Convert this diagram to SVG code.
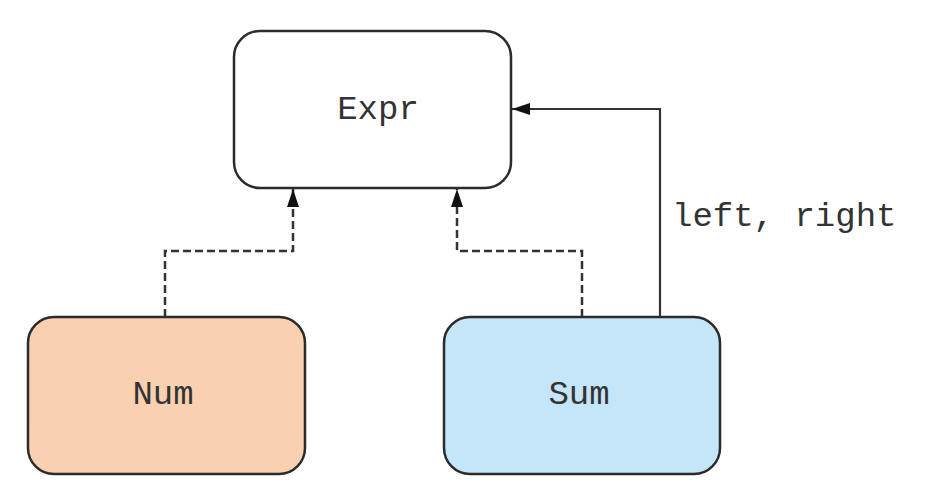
<svg xmlns="http://www.w3.org/2000/svg" width="943" height="487" viewBox="0 0 943 487">
<style>
.box{stroke:#2b2b2b;stroke-width:2.5}
.lbl{font-family:"Liberation Mono","Courier New",monospace;font-size:34px;fill:#333}
.dash{fill:none;stroke:#333;stroke-width:2.5;stroke-dasharray:8 4}
.solid{fill:none;stroke:#333;stroke-width:2.2}
</style>
<defs>
<marker id="ah" viewBox="0 0 18 12" refX="18" refY="6" markerWidth="18" markerHeight="12" markerUnits="userSpaceOnUse" orient="auto">
<path d="M0,0 L18,6 L0,12 z" fill="#111"/>
</marker>
</defs>
<rect width="943" height="487" fill="#fff"/>
<g id="connectors">
<path class="dash" d="M165,317 V251 H293 V189" marker-end="url(#ah)"/>
<path class="dash" d="M582,317 V251 H457 V189" marker-end="url(#ah)"/>
<path class="solid" d="M660,317 V109 H512" marker-end="url(#ah)"/>
<text class="lbl" x="672" y="226">left, right</text>
</g>
<g id="Expr">
<rect class="box" x="234" y="31" width="277" height="157" rx="26" fill="#fff"/>
<text class="lbl" x="378" y="119" text-anchor="middle">Expr</text>
</g>
<g id="Num">
<rect class="box" x="28" y="317" width="277" height="157" rx="26" fill="#f9d0b0"/>
<text class="lbl" x="163" y="404" text-anchor="middle">Num</text>
</g>
<g id="Sum">
<rect class="box" x="444" y="317" width="276" height="157" rx="26" fill="#c5e6f8"/>
<text class="lbl" x="579" y="404" text-anchor="middle">Sum</text>
</g>
</svg>
